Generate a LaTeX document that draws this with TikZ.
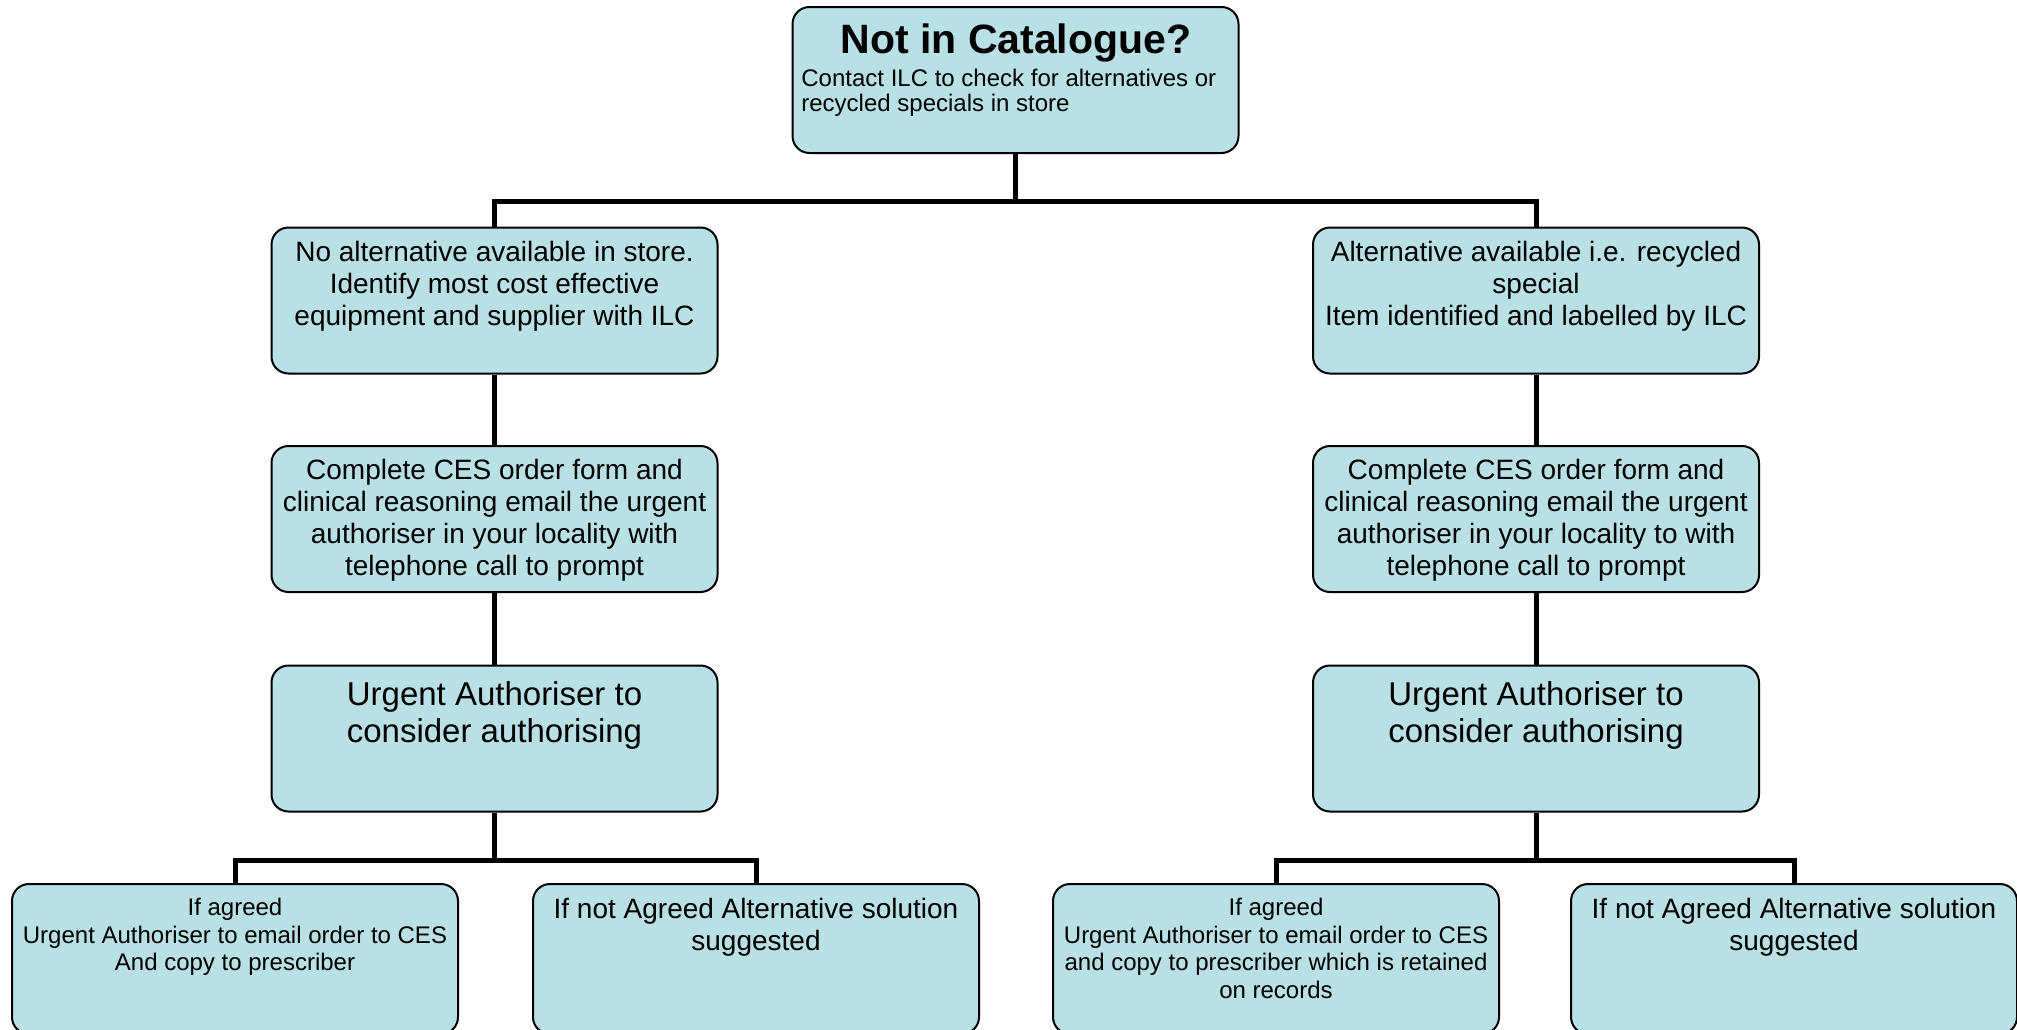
\documentclass[tikz,border=0pt]{standalone}
\usepackage{fontspec}
\setmainfont{Liberation Sans}
\definecolor{boxfill}{RGB}{185,224,228}
\begin{document}
\begin{tikzpicture}[x=0.5pt,y=-0.5pt,
  box/.style={draw=black, line width=1pt, fill=boxfill, rounded corners=8.5pt,
    minimum width=223pt, minimum height=73pt, inner sep=0pt},
  conn/.style={line width=2.5pt},
  lbl/.style={anchor=base, align=center, inner sep=0pt},
  fA/.style={font=\fontsize{14}{15.9}\selectfont},
  fB/.style={font=\fontsize{16.5}{18.3}\selectfont},
  fC/.style={font=\fontsize{12}{13.75}\selectfont},
  fD/.style={font=\fontsize{14}{16}\selectfont}]
\useasboundingbox (0,0) rectangle (2017,1029);
% boxes
\node[box] (top) at (1015.5,80) {};
\node[box] (l2l) at (494.5,300.5) {};
\node[box] (l2r) at (1536,300.5) {};
\node[box] (l3l) at (494.5,519) {};
\node[box] (l3r) at (1536,519) {};
\node[box] (l4l) at (494.5,738.5) {};
\node[box] (l4r) at (1536,738.5) {};
\node[box, minimum height=75pt] (b1) at (235,959) {};
\node[box, minimum height=75pt] (b2) at (756,959) {};
\node[box, minimum height=75pt] (b3) at (1276,959) {};
\node[box, minimum height=75pt] (b4) at (1794,959) {};
% connectors
\coordinate (j1) at (1015.5,201.5);
\coordinate (j2) at (494.5,860);
\coordinate (j3) at (1536,860);
\draw[conn] (top.south) -- (j1);
\draw[conn] (j1) -| (l2l.north);
\draw[conn] (j1) -| (l2r.north);
\draw[conn] (l2l.south) -- (l3l.north);
\draw[conn] (l2r.south) -- (l3r.north);
\draw[conn] (l3l.south) -- (l4l.north);
\draw[conn] (l3r.south) -- (l4r.north);
\draw[conn] (l4l.south) -- (j2);
\draw[conn] (l4r.south) -- (j3);
\draw[conn] (j2) -| (b1.north);
\draw[conn] (j2) -| (b2.north);
\draw[conn] (j3) -| (b3.north);
\draw[conn] (j3) -| (b4.north);
% texts
\node[lbl, font=\bfseries\fontsize{20.5}{23}\selectfont] (ttitle) at (1016,53) {Not in Catalogue?};
\node[anchor=base west, align=left, inner sep=0pt, font=\fontsize{12}{12.5}\selectfont] (tsub) at (801,111) {Contact ILC to check for alternatives or\\recycled specials in store};
\node[lbl, fA] (t2l) at (494.5,325) {No alternative available in store.\\Identify most cost effective\\equipment and supplier with ILC};
\node[lbl, fA] (t2r) at (1536,325) {Alternative available i.e. recycled\\special\\Item identified and labelled by ILC};
\node[lbl, fA] (t3l) at (494.5,575) {Complete CES order form and\\clinical reasoning email the urgent\\authoriser in your locality with\\telephone call to prompt};
\node[lbl, fA] (t3r) at (1536,575) {Complete CES order form and\\clinical reasoning email the urgent\\authoriser in your locality to with\\telephone call to prompt};
\node[lbl, fB] (t4l) at (494.5,742) {Urgent Authoriser to\\consider authorising};
\node[lbl, fB] (t4r) at (1536,742) {Urgent Authoriser to\\consider authorising};
\node[lbl, fC] (tb1) at (235,970.5) {If agreed\\Urgent Authoriser to email order to CES\\And copy to prescriber};
\node[lbl, fD] (tb2) at (756,950) {If not Agreed Alternative solution\\suggested};
\node[lbl, fC] (tb3) at (1276,998) {If agreed\\Urgent Authoriser to email order to CES\\and copy to prescriber which is retained\\on records};
\node[lbl, fD] (tb4) at (1794,950) {If not Agreed Alternative solution\\suggested};
\end{tikzpicture}
\end{document}
